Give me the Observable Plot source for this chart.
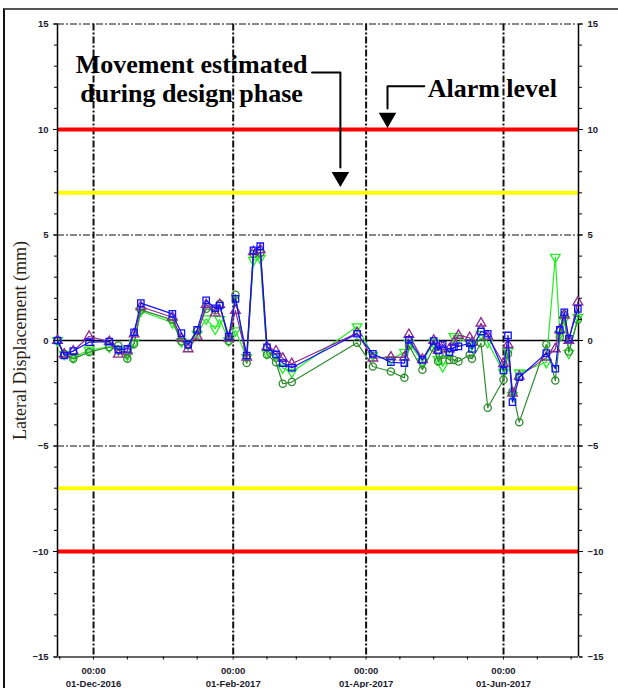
<!DOCTYPE html>
<html>
<head>
<meta charset="utf-8">
<script src="https://cdn.jsdelivr.net/npm/d3@7"></script>
<script src="https://cdn.jsdelivr.net/npm/@observablehq/plot@0.6"></script>
<style>
  html, body { margin: 0; padding: 0; background: #fff; }
  #wrap { position: relative; width: 618px; height: 688px; overflow: hidden; }
  #frame { position: absolute; left: 3px; top: 8px; width: 700px; height: 700px;
           border-left: 2px solid #111; border-top: 2px solid #555; pointer-events: none; }
</style>
</head>
<body>
<div id="wrap"><div id="frame"></div></div>
<script>
// ---- data ----
const dates = [
  "2016-11-15","2016-11-18","2016-11-22","2016-11-29","2016-12-08","2016-12-12","2016-12-16","2016-12-19","2016-12-22",
  "2017-01-05","2017-01-09","2017-01-12","2017-01-16","2017-01-20","2017-01-24","2017-01-26","2017-01-30",
  "2017-02-02","2017-02-07","2017-02-10","2017-02-13","2017-02-16","2017-02-20","2017-02-23","2017-02-27",
  "2017-03-28","2017-04-04","2017-04-12","2017-04-18","2017-04-20","2017-04-26",
  "2017-05-01","2017-05-03","2017-05-05","2017-05-08","2017-05-10","2017-05-12","2017-05-17","2017-05-18","2017-05-22","2017-05-25",
  "2017-06-01","2017-06-03","2017-06-05","2017-06-08","2017-06-20","2017-06-24","2017-06-26","2017-06-28","2017-06-30","2017-07-04"
];
const purple = [0,-0.65,-0.5,0.19,-0.05,-0.66,-0.5,0.3,1.6, 1.1,0.1,-0.4,0.2,1.7,1.3,1.7,0.1, 1.42,-0.8,4.2,4.3,-0.3,-0.5,-0.85,-1.1,
  0.35,-0.84,-0.79,-0.8,0.28,-0.9, 0.0,-0.47,-0.3,-0.4,-0.1,0.24,0.13,-0.1,0.82,0.2, -1.1,-0.2,-2.5,-1.7,-0.8,-0.4,0.5,1.2,0.0,1.82];
const blue = [0,-0.71,-0.5,-0.08,-0.05,-0.43,-0.4,0.39,1.77, 1.26,0.35,-0.2,0.51,1.9,1.53,1.66,0.19, 1.97,-0.71,4.27,4.47,-0.32,-0.66,-1.07,-1.29,
  0.32,-0.63,-1.03,-1.07,0.03,-0.92, -0.03,-0.47,-0.2,-0.55,-0.32,-0.28,-0.13,-0.4,0.43,0.32, -1.42,0.24,-2.92,-1.74,-0.6,-1.34,0.5,1.34,0.08,1.5];
const lightGreen = [0,-0.65,-0.8,-0.45,-0.3,-0.45,-0.7,-0.1,1.4, 0.85,-0.05,-0.2,0.3,1.03,0.55,1.0,0.0, 0.47,-0.8,3.8,3.9,-0.6,-0.75,-1.3,-1.5,
  0.66,-0.7,-0.9,-0.55,-0.1,-1.0, -0.1,-0.9,-1.23,-0.6,0.19,0.1,-0.1,-0.2,0.3,-0.08, -1.5,-0.5,-2.6,-1.53,-1.03,3.95,0.3,1.0,-0.6,1.1];
const darkGreen = [0,-0.65,-0.87,-0.55,-0.32,-0.24,-0.87,-0.16,1.45, 0.98,-0.05,-0.2,0.45,1.5,1.42,1.74,-0.03, 2.17,-1.07,4.1,4.14,-0.68,-1.03,-2.05,-1.97,
  -0.11,-1.23,-1.47,-1.77,-0.24,-1.39, -0.36,-1.0,-0.68,-0.92,-0.92,-1.0,-0.68,-0.87,-0.13,-3.19, -1.86,-0.63,-2.42,-3.87,-0.19,-1.9,0.16,1.23,-0.52,0.98];

const alarmLevels = [10, -10];
const designLevels = [7, -7];
const gridY = [5, -5, 15];
const yTicks = [-15, -10, -5, 0, 5, 10, 15];
const yMinor = d3.range(-15, 16, 1);
const majorDates = ["2016-12-01","2017-02-01","2017-04-01","2017-06-01"];
const minorDates = ["2016-11-16","2016-12-16","2017-01-01","2017-01-16","2017-02-16","2017-03-01","2017-03-16",
  "2017-04-16","2017-05-01","2017-05-16","2017-06-16","2017-07-01"];
const xDomain = ["2016-11-15T00:00", "2017-07-04T07:00"];

// annotations
const noteDesign = {date: "2017-01-13T12:00", y: 12.45, text: "Movement estimated\nduring design phase"};
const noteAlarm = {date: "2017-05-27", y: 11.95, text: "Alarm level"};
const arrowDesign = [["2017-03-08", 12.7], ["2017-03-20T14:00", 12.7], ["2017-03-20T14:00", 8.2]];
const arrowDesignHead = ["2017-03-20T14:00", 7.75];
const arrowAlarm = [["2017-04-26T20:00", 12.05], ["2017-04-10T12:00", 12.05], ["2017-04-10T12:00", 11.0]];
const arrowAlarmHead = ["2017-04-10T12:00", 10.55];

// ---- build ----
const parse = s => new Date(s.length === 10 ? s + "T00:00Z" : s + "Z");
const seriesDefs = [
  {name: "Light green", values: lightGreen, color: "#22ee22", symbol: "triangle", rotate: 180},
  {name: "Dark green", values: darkGreen, color: "#2e8b2e", symbol: "circle", rotate: 0},
  {name: "Purple", values: purple, color: "#8e2a8e", symbol: "triangle", rotate: 0},
  {name: "Blue", values: blue, color: "#1010ff", symbol: "square", rotate: 0}
];
const seriesMarks = seriesDefs.flatMap(s => {
  const rows = dates.map((d, i) => ({date: parse(d), value: s.values[i]}));
  return [
    Plot.line(rows, {x: "date", y: "value", stroke: s.color, strokeWidth: 1.2}),
    Plot.dot(rows, {x: "date", y: "value", stroke: s.color, fill: "none", symbol: s.symbol,
      rotate: s.rotate, r: 3.6, strokeWidth: 1.3})
  ];
});
const fmt = d3.utcFormat("%d-%b-%Y");
const tickFont = {fontSize: 9.5, fontWeight: "bold", fontFamily: "Liberation Sans, Arial, sans-serif", fill: "#1b1b2e"};
const serif = "Liberation Serif, Times New Roman, serif";
const xd = xDomain.map(parse);

const chart = Plot.plot({
  width: 618, height: 688,
  marginLeft: 57, marginRight: 40, marginTop: 23.5, marginBottom: 31.5,
  x: {type: "utc", domain: xd, axis: null},
  y: {domain: [-15, 15], axis: null},
  style: {background: "transparent", overflow: "visible"},
  marks: [
    Plot.ruleY(gridY, {stroke: "#111", strokeWidth: 1, strokeDasharray: "7,2,2,2"}),
    Plot.ruleX(majorDates.map(parse), {stroke: "#111", strokeWidth: 2, strokeDasharray: "7,2,2,2"}),
    Plot.ruleY(alarmLevels, {stroke: "#ff0000", strokeWidth: 4}),
    Plot.ruleY(designLevels, {stroke: "#ffff00", strokeWidth: 4}),
    Plot.ruleY([0], {stroke: "#000", strokeWidth: 1.5}),
    Plot.ruleX(xd, {stroke: "#000", strokeWidth: 1.5}),
    Plot.ruleY([-15], {stroke: "#333", strokeWidth: 1.5}),
    ...seriesMarks,
    // axes
    Plot.axisY({ticks: yTicks, anchor: "left", tickSize: 4, tickPadding: 5, ...tickFont}),
    Plot.axisY({ticks: yMinor, anchor: "left", tickSize: 3, tickFormat: () => ""}),
    Plot.axisY({ticks: yTicks, anchor: "right", tickSize: 4, tickPadding: 5, ...tickFont}),
    Plot.axisY({ticks: yMinor, anchor: "right", tickSize: 3, tickFormat: () => ""}),
    Plot.axisX({ticks: majorDates.map(parse), anchor: "bottom", tickSize: 3, tickPadding: 5,
      tickFormat: d => "00:00\n" + fmt(d), lineHeight: 1.35, ...tickFont}),
    Plot.axisX({ticks: minorDates.map(parse), anchor: "bottom", tickSize: 3, tickFormat: () => ""}),
    Plot.text(["Lateral Displacement (mm)"], {frameAnchor: "left", dx: -37, rotate: -90,
      fontFamily: serif, fontSize: 18, fill: "#2a1e14", textAnchor: "middle"}),
    // annotations
    Plot.text([noteDesign], {x: d => parse(d.date), y: "y", text: "text", fontFamily: serif,
      fontWeight: "bold", fontSize: 26, lineHeight: 1.13, fill: "#000", textAnchor: "middle", lineAnchor: "middle"}),
    Plot.text([noteAlarm], {x: d => parse(d.date), y: "y", text: "text", fontFamily: serif,
      fontWeight: "bold", fontSize: 26, fill: "#000", textAnchor: "middle", lineAnchor: "middle"}),
    Plot.line(arrowDesign, {x: d => parse(d[0]), y: d => d[1], stroke: "#000", strokeWidth: 2}),
    Plot.line(arrowAlarm, {x: d => parse(d[0]), y: d => d[1], stroke: "#000", strokeWidth: 2}),
    Plot.dot([arrowDesignHead, arrowAlarmHead], {x: d => parse(d[0]), y: d => d[1], symbol: "triangle",
      rotate: 180, r: 6.5, fill: "#000", stroke: "none"})
  ]
});
document.getElementById("wrap").prepend(chart);
</script>
</body>
</html>
